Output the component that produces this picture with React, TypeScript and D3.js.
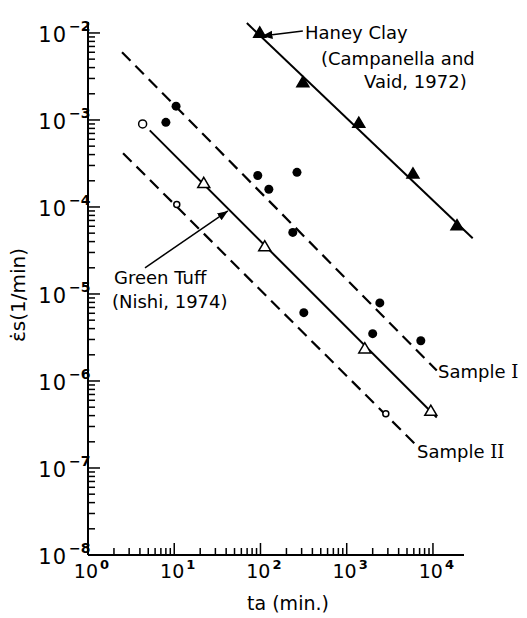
import React from 'react';
import * as d3 from 'd3';

// Haney clay (filled triangles)
const haneyT = [98, 310, 1380, 5860, 19000];
const haneyV = [1.0e-2, 2.7e-3, 9.2e-4, 2.4e-4, 6.1e-5];
// Sample I (filled circles)
const sample1T = [8, 10.5, 93, 125, 265, 237, 318, 2420, 2000, 7230];
const sample1V = [9.4e-4, 1.44e-3, 2.3e-4, 1.6e-4, 2.5e-4, 5.1e-5, 6.1e-6, 7.9e-6, 3.5e-6, 2.9e-6];
// Green tuff (open triangles)
const tuffT = [22, 112, 1620, 9440];
const tuffV = [1.87e-4, 3.5e-5, 2.35e-6, 4.5e-7];
// Sample II (open circles), first one drawn larger
const sample2T = [4.3, 10.7, 2840];
const sample2V = [9.0e-4, 1.07e-4, 4.2e-7];

// fitted lines, [start, end]
const haneyLineT = [69.5, 28900];
const haneyLineV = [1.3e-2, 4.36e-5];
const sample1LineT = [2.48, 11070];
const sample1LineV = [6.0e-3, 1.32e-6];
const tuffLineT = [5.2, 11070];
const tuffLineV = [7.6e-4, 3.8e-7];
const sample2LineT = [2.55, 6150];
const sample2LineV = [4.15e-4, 1.9e-7];

const xExp = [0, 1, 2, 3, 4];
const yExp = [-2, -3, -4, -5, -6, -7, -8];

const W = 527;
const H = 618;
const font = "'DejaVu Sans', sans-serif";

const x = d3.scaleLog().domain([1, Math.pow(10, 4.36)]).range([88, 464]);
const y = d3.scaleLog().domain([1e-8, Math.pow(10, -1.874)]).range([555, 22]);

function minorTicks(lo: number, hi: number) {
  const out: { v: number; major: boolean }[] = [];
  for (let e = lo; e < hi; e++) {
    for (let m = 1; m < 10; m++) out.push({ v: m * Math.pow(10, e), major: m === 1 });
  }
  out.push({ v: Math.pow(10, hi), major: true });
  return out;
}

const Tri = ({ cx, cy, filled }: { cx: number; cy: number; filled: boolean }) => {
  const s = 6;
  const p = `M${cx},${cy - s} L${cx + s},${cy + s * 0.7} L${cx - s},${cy + s * 0.7} Z`;
  return <path d={p} fill={filled ? '#000' : '#fff'} stroke="#000" strokeWidth={1.5} />;
};

function segment(t: number[], v: number[]) {
  return d3.line<number>()
    .x((d, i) => x(t[i]))
    .y((d, i) => y(v[i]))(t);
}

export default function App() {
  const xt = minorTicks(0, 4);
  const yt = minorTicks(-8, -2);

  const hA = { x1: x(310), y1: y(1.05e-2), x2: x(104), y2: y(9.2e-3) };
  const gA = { x1: x(4.58), y1: y(2.0e-5), x2: x(41.9), y2: y(9.0e-5) };

  return (
    <svg width={W} height={H} style={{ position: 'absolute', left: 0, top: 0, background: '#fff' }}>
      <defs>
        <marker id="arr" viewBox="0 0 10 10" refX="10" refY="5" markerWidth="7" markerHeight="7" orient="auto">
          <path d="M0,1 L10,5 L0,9 Z" fill="#000" />
        </marker>
      </defs>

      {/* axes */}
      <line x1={x(1)} x2={x(1)} y1={y.range()[1]} y2={y(1e-8)} stroke="#000" strokeWidth={2} />
      <line x1={x(1)} x2={x.range()[1]} y1={y(1e-8)} y2={y(1e-8)} stroke="#000" strokeWidth={2} />
      {yt.map((t, i) => (
        <line key={'yt' + i} x1={x(1)} x2={x(1) + (t.major ? 12 : 7)} y1={y(t.v)} y2={y(t.v)} stroke="#000" strokeWidth={1.5} />
      ))}
      {xt.map((t, i) => (
        <line key={'xt' + i} y1={y(1e-8)} y2={y(1e-8) - (t.major ? 12 : 7)} x1={x(t.v)} x2={x(t.v)} stroke="#000" strokeWidth={1.5} />
      ))}
      {yExp.map((e) => (
        <g key={'yl' + e}>
          <text x={67} y={y(Math.pow(10, e)) + 9} fontFamily={font} fontSize={21} textAnchor="end" letterSpacing={1}>10</text>
          <text x={69} y={y(Math.pow(10, e)) - 2} fontFamily={font} fontSize={14} fontWeight="bold">{String(e).replace('-', '\u2212')}</text>
        </g>
      ))}
      {xExp.map((e) => (
        <g key={'xl' + e}>
          <text x={x(Math.pow(10, e)) + 10} y={578} fontFamily={font} fontSize={19} textAnchor="end">10</text>
          <text x={x(Math.pow(10, e)) + 12} y={569} fontFamily={font} fontSize={13} fontWeight="bold">{e}</text>
        </g>
      ))}

      {/* axis titles */}
      <text x={288} y={610} fontFamily={font} fontSize={19} textAnchor="middle">ta (min.)</text>
      <text transform="translate(25,295) rotate(-90)" fontFamily={font} fontSize={20} textAnchor="middle">{'\u03B5\u0307s(1/min)'}</text>

      {/* fitted lines */}
      <path d={segment(haneyLineT, haneyLineV) || ''} stroke="#000" strokeWidth={2} fill="none" />
      <path d={segment(tuffLineT, tuffLineV) || ''} stroke="#000" strokeWidth={2} fill="none" />
      <path d={segment(sample1LineT, sample1LineV) || ''} stroke="#000" strokeWidth={2.2} strokeDasharray="12 7" fill="none" />
      <path d={segment(sample2LineT, sample2LineV) || ''} stroke="#000" strokeWidth={2.2} strokeDasharray="12 7" fill="none" />

      {/* markers */}
      {haneyT.map((t, i) => <Tri key={'h' + i} cx={x(t)} cy={y(haneyV[i])} filled={true} />)}
      {tuffT.map((t, i) => <Tri key={'g' + i} cx={x(t)} cy={y(tuffV[i])} filled={false} />)}
      {sample1T.map((t, i) => <circle key={'s1' + i} cx={x(t)} cy={y(sample1V[i])} r={4.5} fill="#000" />)}
      {sample2T.map((t, i) => (
        <circle key={'s2' + i} cx={x(t)} cy={y(sample2V[i])} r={i === 0 ? 4 : 3} fill="#fff" stroke="#000" strokeWidth={1.5} />
      ))}

      {/* annotations */}
      <line {...hA} stroke="#000" strokeWidth={1.5} markerEnd="url(#arr)" />
      <line {...gA} stroke="#000" strokeWidth={1.5} markerEnd="url(#arr)" />
      <text x={305} y={39} fontFamily={font} fontSize={18}>Haney Clay</text>
      <text x={321} y={65} fontFamily={font} fontSize={18}>(Campanella and</text>
      <text x={364} y={88} fontFamily={font} fontSize={18}>Vaid, 1972)</text>
      <text x={114} y={284} fontFamily={font} fontSize={18}>Green Tuff</text>
      <text x={112} y={308} fontFamily={font} fontSize={18}>(Nishi, 1974)</text>
      <text x={438} y={378} fontFamily={font} fontSize={18}>Sample <tspan fontFamily="'DejaVu Serif', serif">I</tspan></text>
      <text x={417} y={458} fontFamily={font} fontSize={18}>Sample <tspan fontFamily="'DejaVu Serif', serif">II</tspan></text>
    </svg>
  );
}
